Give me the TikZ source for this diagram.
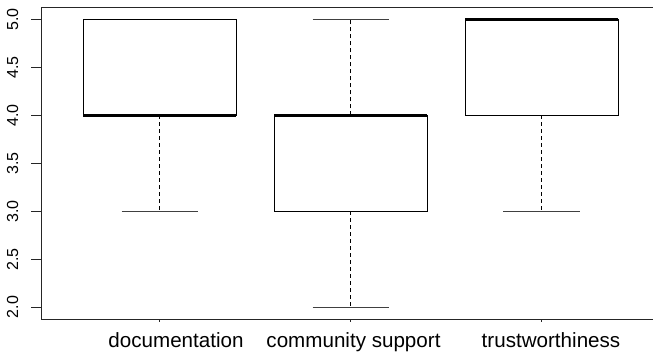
\documentclass[tikz,border=0pt]{standalone}
\usepackage{fontspec}
\setmainfont{Liberation Sans}
\begin{document}
\begin{tikzpicture}[x=1pt,y=-1pt,
  frameline/.style={line width=1pt, black!85},
  boxline/.style={line width=0.9pt, black},
  medianline/.style={line width=3pt, black},
  whisker/.style={line width=0.8pt, black, dash pattern=on 4pt off 3pt},
  capline/.style={line width=1pt, black!75},
  ticklab/.style={font=\fontsize{16}{16}\selectfont, rotate=90, anchor=base, inner sep=0pt},
  catlab/.style={font=\fontsize{20.6}{20.6}\selectfont, anchor=base, inner sep=0pt}]
\useasboundingbox (0,0) rectangle (653,353);
\clip (0,0) rectangle (653,353);
% value -> y : 19.5 + (5-v)*95.9
\def\yA{19.5}   % 5.0
\def\yB{67.45}  % 4.5
\def\yC{115.4}  % 4.0
\def\yD{163.35} % 3.5
\def\yE{211.3}  % 3.0
\def\yF{259.25} % 2.5
\def\yG{307.2}  % 2.0
% frame
\draw[frameline] (41,7.5) rectangle (665,319.5);
% y ticks and labels
\foreach \yy/\lab in {\yA/5.0,\yB/4.5,\yC/4.0,\yD/3.5,\yE/3.0,\yF/2.5,\yG/2.0}{
  \draw[frameline] (31,\yy) -- (41,\yy);
  \node[ticklab] at (18,\yy) {\lab};
}
% x ticks
\foreach \xx in {159.7,350.7,541.6}{
  \draw[frameline] (\xx,319.5) -- (\xx,321.5);
}
% x labels
\node[catlab] (l1) at (176,347) {documentation};
\node[catlab] (l2) at (353.5,347) {community support};
\node[catlab] (l3) at (551,347) {trustworthiness};
% documentation: Q1=med=4, Q3=5, whiskers 3..5
\draw[boxline] (83.3,\yA) rectangle (236.1,\yC);
\draw[whisker] (159.7,\yC) -- (159.7,\yE);
\draw[capline] (121.5,\yE) -- (197.9,\yE);
\draw[capline, black] (121.5,\yA) -- (197.9,\yA);
\draw[medianline] (83.3,\yC) -- (236.1,\yC);
% community support: Q1=3, med=Q3=4, whiskers 2..5
\draw[boxline] (274.3,\yC) rectangle (427.1,\yE);
\draw[whisker] (350.7,\yC) -- (350.7,\yA);
\draw[whisker] (350.7,\yE) -- (350.7,\yG);
\draw[capline] (312.5,\yA) -- (388.9,\yA);
\draw[capline] (312.5,\yG) -- (388.9,\yG);
\draw[medianline] (274.3,\yC) -- (427.1,\yC);
% trustworthiness: Q1=4, med=Q3=5, whiskers 3..5
\draw[boxline] (465.2,\yA) rectangle (618,\yC);
\draw[whisker] (541.6,\yC) -- (541.6,\yE);
\draw[capline] (503.4,\yE) -- (579.8,\yE);
\draw[medianline] (465.2,\yA) -- (618,\yA);
\end{tikzpicture}
\end{document}
